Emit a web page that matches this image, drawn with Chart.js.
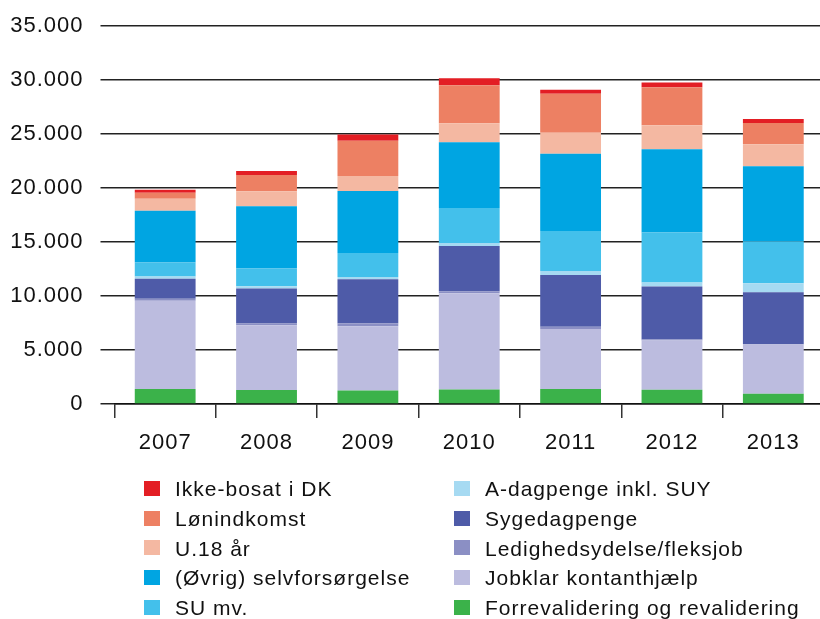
<!DOCTYPE html>
<html>
<head>
<meta charset="utf-8">
<script src="https://cdn.jsdelivr.net/npm/chart.js@4/dist/chart.umd.min.js"></script>
<style>
  html, body { margin: 0; padding: 0; background: #fff; overflow: hidden; width: 820px; height: 619px; }
  #wrap { position: absolute; left: 0; top: 0; width: 824px; height: 460px; }
  #legend { position: absolute; left: 0; top: 0; width: 820px; height: 619px; pointer-events: none;
            font-family: "Liberation Sans", Arial, sans-serif; font-size: 21px; color: #111; letter-spacing: 1px; }
  .li { position: absolute; line-height: 21px; white-space: nowrap; }
  .sw { position: absolute; width: 16px; height: 15px; }
</style>
</head>
<body>
<div id="wrap"><canvas id="c"></canvas></div>
<div id="legend"></div>
<script>
// ---- Data ----
const years = ['2007', '2008', '2009', '2010', '2011', '2012', '2013'];
const yTicks = [0, 5000, 10000, 15000, 20000, 25000, 30000, 35000];

const forrevalidering = [1400, 1300, 1250, 1350, 1400, 1330, 950];
const jobklar         = [8150, 6000, 5950, 8900, 5550, 4550, 4550];
const ledighed        = [200, 150, 280, 200, 200, 100, 40];
const sygedagpenge    = [1850, 3250, 4080, 4170, 4800, 4900, 4800];
const aDagpenge       = [200, 200, 200, 280, 370, 370, 830];
const suMv            = [1300, 1650, 2220, 3240, 3700, 4630, 3900];
const selvforsorgelse = [4800, 5750, 5750, 6100, 7150, 7700, 6950];
const u18             = [1100, 1400, 1390, 1760, 1950, 2220, 2040];
const lonindkomst     = [550, 1500, 3250, 3520, 3600, 3520, 1950];
const ikkeBosat       = [280, 370, 590, 650, 370, 460, 370];

const seriesLabels = [
  'Forrevalidering og revalidering',
  'Jobklar kontanthjælp',
  'Ledighedsydelse/fleksjob',
  'Sygedagpenge',
  'A-dagpenge inkl. SUY',
  'SU mv.',
  '(Øvrig) selvforsørgelse',
  'U.18 år',
  'Lønindkomst',
  'Ikke-bosat i DK'
];
const seriesValues = [forrevalidering, jobklar, ledighed, sygedagpenge, aDagpenge, suMv, selvforsorgelse, u18, lonindkomst, ikkeBosat];
const seriesColors = ['#3bb24a', '#bcbcdf', '#8b8fc4', '#4e5ba8', '#a6daf2', '#43c0eb', '#00a5e2', '#f4b8a2', '#ed8063', '#e31e24'];

const fmt = v => String(v).replace(/\B(?=(\d{3})+(?!\d))/g, '.');

const datasets = seriesLabels.map((lab, i) => ({
  label: lab,
  data: seriesValues[i],
  backgroundColor: seriesColors[i],
  borderWidth: 0,
  barPercentage: 0.6,
  categoryPercentage: 1.0
}));

const spacing = {
  id: 'spacing',
  beforeDraw(chart) { chart.ctx.letterSpacing = '1px'; }
};

const FONT = { family: '"Liberation Sans", Arial, sans-serif', size: 22 };

const chart = new Chart(document.getElementById('c'), {
  type: 'bar',
  data: { labels: years, datasets },
  plugins: [spacing],
  options: {
    responsive: true,
    maintainAspectRatio: false,
    animation: false,
    layout: { padding: { top: 26, left: 0, right: 0, bottom: 0 } },
    plugins: { legend: { display: false }, tooltip: { enabled: false } },
    scales: {
      x: {
        stacked: true,
        grid: { display: true, drawOnChartArea: false, drawTicks: true, tickLength: 14, color: '#333', lineWidth: 1.5, offset: true },
        border: { display: true, color: '#111', width: 1.5 },
        ticks: { color: '#111', font: FONT, padding: 12 },
        afterFit(s) { s.height = 56; s.paddingLeft = 0; s.paddingRight = 0; }
      },
      y: {
        stacked: true,
        min: 0, max: 35000,
        afterBuildTicks(s) { s.ticks = yTicks.map(v => ({ value: v })); },
        grid: { color: '#222', lineWidth: 1.5, drawTicks: true, tickLength: 14 },
        border: { display: false },
        ticks: { color: '#111', font: FONT, padding: 17, callback: v => fmt(v) },
        afterFit(s) { s.width = 114.5; s.paddingTop = 0; s.paddingBottom = 0; }
      }
    }
  }
});

// HTML legend in two columns (top of stack first)
const legend = document.getElementById('legend');
const order = datasets.map((d, i) => i).reverse();
order.forEach((di, k) => {
  const col = Math.floor(k / 5), row = k % 5;
  const left = col === 0 ? 144 : 454;
  const top = 478.3 + row * 29.7;
  const sw = document.createElement('div');
  sw.className = 'sw';
  sw.style.left = left + 'px';
  sw.style.top = (top + 2.7) + 'px';
  sw.style.background = datasets[di].backgroundColor;
  legend.appendChild(sw);
  const t = document.createElement('div');
  t.className = 'li';
  t.style.left = (left + 31) + 'px';
  t.style.top = top + 'px';
  t.textContent = datasets[di].label;
  legend.appendChild(t);
});
</script>
</body>
</html>
